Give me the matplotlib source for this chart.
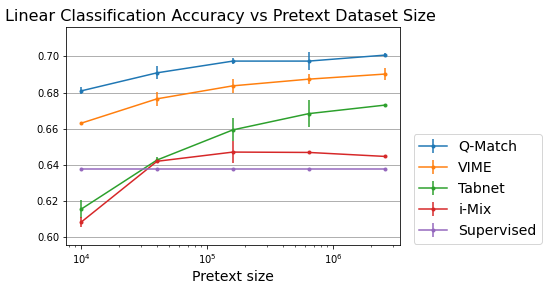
import matplotlib
matplotlib.use("Agg")
import matplotlib.pyplot as plt

sizes = [1e4, 4e4, 1.6e5, 6.4e5, 2.56e6]
qmatch = [0.6809, 0.6909, 0.6974, 0.6974, 0.7007]
qmatch_err = [0.0019, 0.0036, 0.0015, 0.0052, 0.0013]
vime = [0.6630, 0.6765, 0.6837, 0.6874, 0.6902]
vime_err = [0.0005, 0.0039, 0.0037, 0.0029, 0.0031]
tabnet = [0.6154, 0.6426, 0.6593, 0.6683, 0.6730]
tabnet_err = [0.0048, 0.0015, 0.0064, 0.0073, 0.0004]
imix = [0.6082, 0.6419, 0.6470, 0.6468, 0.6446]
imix_err = [0.0029, 0.0007, 0.0060, 0.0004, 0.0004]
supervised = [0.6374, 0.6374, 0.6374, 0.6374, 0.6374]
supervised_err = [0.0, 0.0, 0.0, 0.0, 0.0]

labels = ["Q-Match", "VIME", "Tabnet", "i-Mix", "Supervised"]
series = [(qmatch, qmatch_err), (vime, vime_err), (tabnet, tabnet_err),
          (imix, imix_err), (supervised, supervised_err)]

fig = plt.figure(figsize=(550/72, 290/72), dpi=72)
ax = fig.add_axes([0.12, 0.155, 0.607, 0.752])
for (vals, err), lab in zip(series, labels):
    ax.errorbar(sizes, vals, yerr=err, fmt='.-', label=lab, markersize=6, linewidth=1.5)
ax.set_xscale('log')
ax.set_ylim(0.5955, 0.7163)
ax.set_yticks([0.60, 0.62, 0.64, 0.66, 0.68, 0.70])
ax.yaxis.grid(True, color='#b0b0b0', linewidth=1)
ax.set_axisbelow(True)
ax.set_xlabel("Pretext size", fontsize=14)
t = ax.set_title("Linear Classification Accuracy vs Pretext Dataset Size", fontsize=16)
t.set_x(0.464)
ax.legend(loc='lower left', bbox_to_anchor=(1.02, -0.025), fontsize=14)
fig.savefig("out.png", dpi=72)
